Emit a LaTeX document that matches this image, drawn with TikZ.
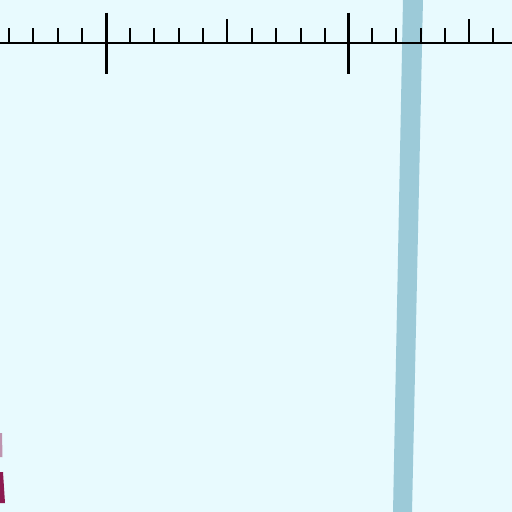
\documentclass[tikz,border=0pt]{standalone}
\begin{document}
\begin{tikzpicture}[x=1pt,y=-1pt,
  axisline/.style={line width=2pt,black},
  minortick/.style={line width=2pt,black},
  majortick/.style={line width=3pt,black},
  bandfill/.style={fill=bandblue},
  redmark/.style={fill=markred}]
\definecolor{bg}{RGB}{232,250,254}
\definecolor{bandblue}{RGB}{156,202,216}
\definecolor{markred}{RGB}{140,26,80}
\useasboundingbox (0,0) rectangle (512,512);
\fill[bg] (0,0) rectangle (512,512);
\begin{scope}
\clip (0,0) rectangle (512,512);
% slanted band
\fill[bandfill] (403,-1) -- (423,-1) -- (412,513) -- (393,513) -- cycle;
% magenta marks at lower left
\fill[redmark,opacity=0.45] (-1,433) -- (2,433) -- (2.5,457) -- (-1,457) -- cycle;
\fill[redmark] (-1,472) -- (3,472) -- (5,503) -- (-1,503) -- cycle;
\end{scope}
% axis
\draw[axisline] (0,42.5) -- (512,42.5);
\foreach \x in {9.2,33.4,57.6,81.8,130.2,154.4,178.6,203,252.2,276.4,300.6,324.8,372.2,396.4,420.6,444.8,493.2}
  \draw[minortick] (\x,42.5) -- (\x,28);
\foreach \x in {227.4,469.4}
  \draw[minortick] (\x,42.5) -- (\x,19);
\foreach \x in {106,348}
  \draw[majortick] (\x,12.5) -- (\x,74);
\end{tikzpicture}
\end{document}
